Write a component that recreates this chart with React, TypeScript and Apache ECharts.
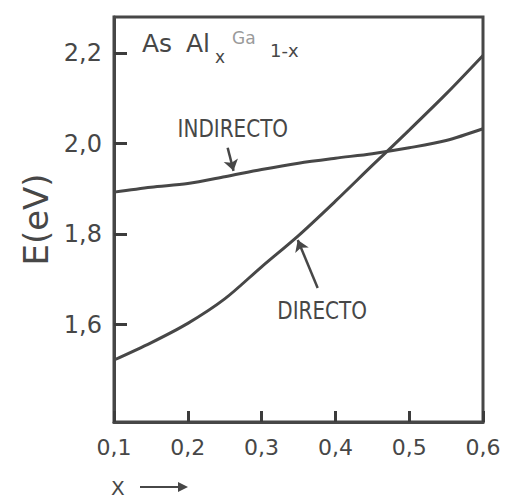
import { useEffect, useRef } from 'react';
import * as echarts from 'echarts';

// Composition x of AlxGa1-xAs and band gap energies (eV)
const xValues = [0.1, 0.15, 0.2, 0.25, 0.3, 0.35, 0.4, 0.45, 0.5, 0.55, 0.6];
const directo = [1.522, 1.56, 1.603, 1.657, 1.728, 1.797, 1.873, 1.952, 2.03, 2.11, 2.195];
const indirecto = [1.893, 1.904, 1.912, 1.927, 1.943, 1.957, 1.968, 1.978, 1.991, 2.007, 2.033];

const X_MIN = 0.1;
const X_MAX = 0.6;
const Y_MIN = 1.385;
const Y_MAX = 2.28;
const yTickValues = [1.6, 1.8, 2.0, 2.2];

// Callout texts and arrows, in data coordinates
const noteIndirecto = { text: 'INDIRECTO', at: [0.261, 2.035] };
const noteDirecto = { text: 'DIRECTO', at: [0.382, 1.632] };
const arrowIndirecto = [[0.254, 1.991], [0.262, 1.94]];
const arrowDirecto = [[0.376, 1.681], [0.349, 1.787]];

const INK = '#474747';
const FONT = 'DejaVu Sans';

export default function App() {
  const ref = useRef<HTMLDivElement>(null);

  useEffect(() => {
    document.body.style.margin = '0';
    const chart = echarts.init(ref.current!, null, { renderer: 'svg' });
    const fmt = (v: number) => v.toFixed(1).replace('.', ',');
    const pairs = (ys: number[]) => xValues.map((x, i) => [x, ys[i]]);
    const arrowLine = (a: number[][], curveness: number) => ({
      silent: true,
      symbol: ['none', 'arrow'],
      symbolSize: 11,
      label: { show: false },
      lineStyle: { color: INK, width: 2.5, type: 'solid', curveness },
      itemStyle: { color: INK },
      emphasis: { disabled: true },
      data: [[{ coord: a[0] }, { coord: a[1] }]],
    });

    chart.setOption({
      animation: false,
      grid: {
        left: 114,
        right: 24,
        top: 17,
        bottom: 78,
        show: true,
        borderColor: INK,
        borderWidth: 3,
        backgroundColor: 'transparent',
      },
      xAxis: {
        type: 'value',
        min: X_MIN,
        max: X_MAX,
        interval: 0.1,
        axisLine: { lineStyle: { color: INK, width: 3 } },
        axisTick: {
          show: true,
          inside: true,
          length: 11,
          lineStyle: { color: '#3c3c3c', width: 3 },
        },
        axisLabel: { formatter: fmt, fontSize: 22, color: INK, fontFamily: FONT, margin: 14 },
        splitLine: { show: false },
      },
      yAxis: {
        type: 'value',
        min: Y_MIN,
        max: Y_MAX,
        name: 'E(eV)',
        nameLocation: 'middle',
        nameRotate: 90,
        nameGap: 58,
        nameTextStyle: { fontSize: 34, color: INK, fontFamily: FONT },
        axisLine: { show: true, lineStyle: { color: INK, width: 3 } },
        axisTick: {
          show: true,
          inside: true,
          length: 13,
          customValues: yTickValues,
          lineStyle: { color: '#3c3c3c', width: 3 },
        },
        axisLabel: {
          formatter: fmt,
          customValues: yTickValues,
          fontSize: 24,
          color: INK,
          fontFamily: FONT,
          margin: 12,
        },
        splitLine: { show: false },
      },
      series: [
        {
          name: 'INDIRECTO',
          type: 'line',
          data: pairs(indirecto),
          smooth: 0.3,
          showSymbol: false,
          lineStyle: { color: INK, width: 3 },
          markLine: arrowLine(arrowIndirecto, 0),
        },
        {
          name: 'DIRECTO',
          type: 'line',
          data: pairs(directo),
          smooth: 0.3,
          showSymbol: false,
          lineStyle: { color: INK, width: 3 },
          markLine: arrowLine(arrowDirecto, 0.15),
        },
      ],
    });

    const px = (p: number[]) => chart.convertToPixel({ seriesIndex: 0 }, p) as number[];
    const note = (n: { text: string; at: number[] }) => {
      const q = px(n.at);
      return {
        type: 'text',
        x: q[0],
        y: q[1],
        scaleY: 1.2,
        style: {
          text: n.text,
          fontSize: 20,
          fontFamily: FONT,
          fill: INK,
          align: 'center',
          verticalAlign: 'middle',
        },
      };
    };
    const title = (text: string, left: number, top: number, size: number, fill = INK) => ({
      type: 'text',
      x: left,
      y: top,
      style: { text, fontSize: size, fontFamily: FONT, fill, verticalAlign: 'top' },
    });

    chart.setOption({
      graphic: [
        note(noteIndirecto),
        note(noteDirecto),
        title('As', 142, 31, 25),
        title('Al', 186, 31, 25),
        title('x', 215, 48, 17),
        title('Ga', 232, 29, 17, '#9a9a9a'),
        title('1-x', 270, 41, 18),
        {
          type: 'text',
          x: 111,
          y: 488,
          style: { text: 'X', fontSize: 20, fontFamily: FONT, fill: INK, verticalAlign: 'middle' },
        },
        {
          type: 'line',
          shape: { x1: 140, y1: 487, x2: 182, y2: 487 },
          style: { stroke: INK, lineWidth: 2 },
        },
        {
          type: 'polygon',
          shape: { points: [[188, 487], [178, 482], [178, 492]] },
          style: { fill: INK },
        },
      ],
    });

    return () => chart.dispose();
  }, []);

  return <div ref={ref} style={{ width: 507, height: 500 }} />;
}
